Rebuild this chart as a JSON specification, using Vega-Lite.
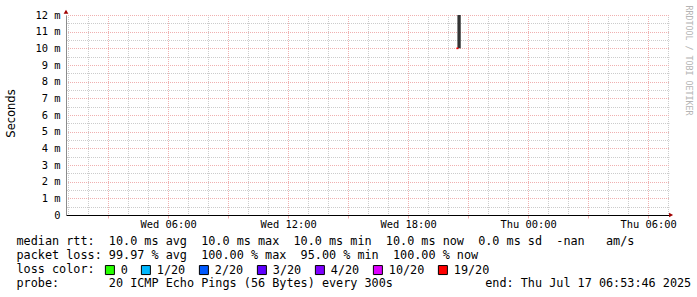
{
  "$schema": "https://vega.github.io/schema/vega-lite/v6.json",
  "width": 603,
  "height": 200,
  "autosize": "none",
  "padding": {"left": 66, "top": 15, "right": 28, "bottom": 82},
  "background": "white",
  "config": {"view": {"stroke": null}, "font": "DejaVu Sans Mono"},
  "datasets": {
    "smoke": [{"t": "2025-07-16T20:28:00Z", "t2": "2025-07-16T20:38:00Z", "lo": 10.0, "hi": 12.0}],
    "median": [{"t": "2025-07-16T20:25:00Z", "t2": "2025-07-16T20:31:00Z", "lo": 9.95, "hi": 10.05, "loss": "19/20"}]
  },
  "layer": [
    {
      "data": {"name": "smoke"},
      "mark": {"type": "rect", "color": "#333333"},
      "encoding": {
        "x": {"field": "t", "type": "temporal",
          "scale": {"type": "utc", "domain": [1752627226000, 1752735766000], "nice": false},
          "axis": {"orient": "top", "values": [1752627600000,1752631200000,1752638400000,1752642000000,1752649200000,1752652800000,1752660000000,1752663600000,1752670800000,1752674400000,1752681600000,1752685200000,1752692400000,1752696000000,1752703200000,1752706800000,1752714000000,1752717600000,1752724800000,1752728400000,1752735600000],
            "grid": true, "gridColor": "#cccccc", "gridDash": [1, 1], "gridDashOffset": 0.5, "gridWidth": 1, "gridOpacity": 1,
            "domain": false, "ticks": false, "tickSize": 0, "labels": false, "title": null}},
        "x2": {"field": "t2"},
        "y": {"field": "lo", "type": "quantitative",
          "scale": {"domain": [0, 12], "nice": false, "zero": false},
          "axis": {"orient": "right", "values": [0.5,1.5,2.5,3.5,4.5,5.5,6.5,7.5,8.5,9.5,10.5,11.5],
            "grid": true, "gridColor": "#cccccc", "gridDash": [1, 1], "gridDashOffset": 0.5, "gridWidth": 1, "gridOpacity": 1,
            "domain": false, "ticks": false, "tickSize": 0, "labels": false,
            "title": "RRDTOOL / TOBI OETIKER", "titleFont": "DejaVu Sans Mono", "titleFontSize": 8.3,
            "titleFontWeight": "normal", "titleColor": "#b4b4b4", "titleAngle": 90, "titleX": 18, "titleY": -10,
            "titleAlign": "left", "titleBaseline": "middle"}},
        "y2": {"field": "hi"}
      }
    },
    {
      "data": {"name": "median"},
      "mark": {"type": "rect"},
      "encoding": {
        "x": {"field": "t", "type": "temporal",
          "axis": {"orient": "bottom", "values": [1752634800000,1752645600000,1752656400000,1752667200000,1752678000000,1752688800000,1752699600000,1752710400000,1752721200000,1752732000000],
            "grid": true, "gridColor": "#f0b0b0", "gridDash": [1, 1], "gridDashOffset": 0.5, "gridWidth": 1, "gridOpacity": 1,
            "domain": true, "domainColor": "#000000", "domainWidth": 1,
            "ticks": true, "tickColor": "#f0b0b0", "tickSize": 3,
            "labelExpr": "utchours(datum.value) % 6 == 0 ? utcFormat(datum.value, '%a %H:%M') : ''",
            "labelOverlap": false, "labelFlush": false, "labelFont": "DejaVu Sans Mono", "labelFontSize": 10.4,
            "labelColor": "#000000", "labelPadding": 1,
            "title": ["median rtt:\u00a0\u00a010.0 ms avg\u00a0\u00a010.0 ms max\u00a0\u00a010.0 ms min\u00a0\u00a010.0 ms now\u00a0\u00a00.0 ms sd\u00a0\u00a0-nan\u00a0\u00a0\u00a0am/s",
                      "packet loss: 99.97 % avg\u00a0\u00a0100.00 % max\u00a0\u00a095.00 % min\u00a0\u00a0100.00 % now",
                      "loss color:",
                      "probe:\u00a0\u00a0\u00a0\u00a0\u00a0\u00a0\u00a020 ICMP Echo Pings (56 Bytes) every 300s\u00a0\u00a0\u00a0\u00a0\u00a0\u00a0\u00a0\u00a0\u00a0\u00a0\u00a0\u00a0\u00a0end: Thu Jul 17 06:53:46 2025"],
            "titleFont": "DejaVu Sans Mono", "titleFontSize": 11.8, "titleFontWeight": "normal", "titleColor": "#000000",
            "titleAlign": "left", "titleAngle": 0, "titleBaseline": "top", "titleX": -50, "titleY": 20, "titleLineHeight": 14}},
        "x2": {"field": "t2"},
        "y": {"field": "lo", "type": "quantitative",
          "axis": {"orient": "left", "values": [0,1,2,3,4,5,6,7,8,9,10,11,12],
            "grid": true, "gridColor": "#f0b0b0", "gridDash": [1, 1], "gridDashOffset": 0.5, "gridWidth": 1, "gridOpacity": 1,
            "domain": true, "domainColor": "#8c8c8c", "ticks": false, "tickSize": 0,
            "labelExpr": "datum.value == 0 ? '0\u00a0\u00a0' : datum.value + ' m'",
            "labelFont": "DejaVu Sans Mono", "labelFontSize": 10.4, "labelColor": "#000000", "labelPadding": 6,
            "title": "Seconds", "titleFont": "DejaVu Sans", "titleFontSize": 11.5, "titleFontWeight": "normal",
            "titleColor": "#000000", "titleAngle": -90, "titleX": -55, "titleY": 98, "titleAlign": "center", "titleBaseline": "middle"}},
        "y2": {"field": "hi"},
        "color": {"field": "loss", "type": "nominal",
          "scale": {"domain": ["0", "1/20", "2/20", "3/20", "4/20", "10/20", "19/20"],
                    "range": ["#26ff00", "#00b8ff", "#0059ff", "#5e00ff", "#7e00ff", "#dd00ff", "#ff0000"]},
          "legend": {"title": null, "orient": "none", "direction": "horizontal", "legendX": 38, "legendY": 249,
            "symbolType": "square", "symbolSize": 81, "symbolStrokeColor": "#000000", "symbolStrokeWidth": 1, "symbolOpacity": 1,
            "labelFont": "DejaVu Sans Mono", "labelFontSize": 11.8, "labelColor": "#000000", "labelOffset": 5,
            "columnPadding": 11, "padding": 0,
            "encode": {"symbols": {"update": {"stroke": {"value": "#000000"}, "strokeWidth": {"value": 1}}}}}}
      }
    },
    {
      "data": {"values": [{}]},
      "mark": {"type": "point", "shape": "triangle-right", "filled": true, "color": "#a00000", "size": 22, "clip": false, "opacity": 1},
      "encoding": {
        "x": {"datum": {"year": 2025, "month": 7, "date": 17, "hours": 7, "minutes": 9, "utc": true}, "type": "temporal", "axis": null},
        "y": {"datum": 0, "type": "quantitative", "axis": null}
      }
    },
    {
      "data": {"values": [{}]},
      "mark": {"type": "point", "shape": "triangle-up", "filled": true, "color": "#a00000", "size": 22, "clip": false, "opacity": 1},
      "encoding": {
        "x": {"datum": {"year": 2025, "month": 7, "date": 16, "hours": 0, "minutes": 53, "seconds": 46, "utc": true}, "type": "temporal", "axis": null},
        "y": {"datum": 12.2, "type": "quantitative", "axis": null}
      }
    }
  ],
  "resolve": {"axis": {"x": "independent", "y": "independent"}}
}
